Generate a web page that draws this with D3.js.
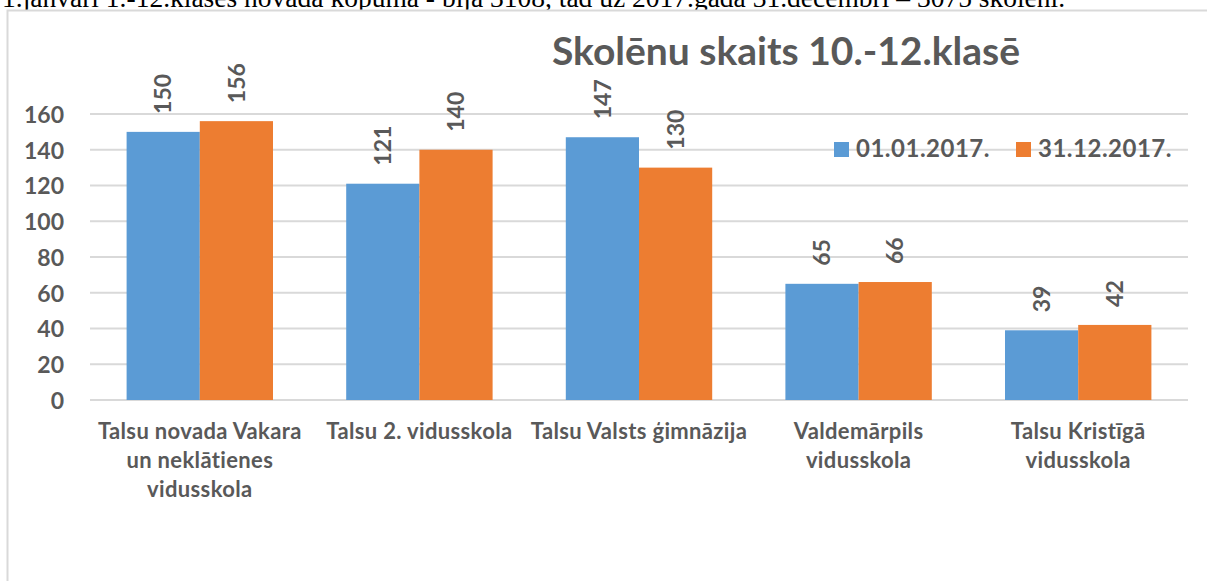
<!DOCTYPE html>
<html>
<head>
<meta charset="utf-8">
<script src="https://cdn.jsdelivr.net/npm/d3@7"></script>
<style>
  body { margin: 0; background: #fff; }
  svg { display: block; }
  .lbl { font-family: Lato, "Open Sans", sans-serif; font-weight: bold; fill: #595959; }
</style>
</head>
<body>
<div id="vis"></div>
<script>
// chart data
const CATEGORIES = [
  ['Talsu novada Vakara', 'un neklātienes', 'vidusskola'],
  ['Talsu 2. vidusskola'],
  ['Talsu Valsts ģimnāzija'],
  ['Valdemārpils', 'vidusskola'],
  ['Talsu Kristīgā', 'vidusskola']
];
const SERIES = ['01.01.2017.', '31.12.2017.'];
const START_VALUES = [150, 121, 147, 65, 39];
const END_VALUES = [156, 140, 130, 66, 42];
const Y_TICKS = [0, 20, 40, 60, 80, 100, 120, 140, 160];
const COLORS = ['#5B9BD5', '#ED7D31'];

const FRAME_WIDTH = 1207;
const FRAME_HEIGHT = 581;
const MARGINS = {left: 90, right: 19, top: 114, bottom: 181};

const VIS_WIDTH = FRAME_WIDTH - MARGINS.left - MARGINS.right;
const VIS_HEIGHT = FRAME_HEIGHT - MARGINS.top - MARGINS.bottom;

const svg = d3.select('#vis')
  .append('svg')
    .attr('width', FRAME_WIDTH)
    .attr('height', FRAME_HEIGHT);

// line of the document text above the chart (cut off at the top, as in the source)
svg.append('text')
  .attr('x', 2)
  .attr('y', 7)
  .attr('font-family', '"Liberation Serif", "Times New Roman", serif')
  .attr('font-size', 27.5)
  .attr('fill', '#000')
  .text('1.janvārī 1.-12.klasēs novada kopumā - bija 3108, tad uz 2017.gada 31.decembri – 3075 skolēni.');

// chart border
svg.append('rect')
  .attr('x', 7.5)
  .attr('y', 10.5)
  .attr('width', 1220)
  .attr('height', 600)
  .attr('fill', '#fff')
  .attr('stroke', '#d9d9d9')
  .attr('stroke-width', 2);

const X_SCALE = d3.scaleBand()
  .domain(d3.range(CATEGORIES.length))
  .range([0, VIS_WIDTH])
  .paddingInner(1 / 3)
  .paddingOuter(1 / 6);

const X_SUB = d3.scaleBand()
  .domain(d3.range(SERIES.length))
  .range([0, X_SCALE.bandwidth()]);

const Y_SCALE = d3.scaleLinear()
  .domain([0, 160])
  .range([VIS_HEIGHT, 0]);

const g = svg.append('g')
  .attr('transform', 'translate(' + MARGINS.left + ',' + MARGINS.top + ')');

// gridlines
g.append('g')
  .selectAll('line')
  .data(Y_TICKS)
  .enter()
  .append('line')
    .attr('x1', 0)
    .attr('x2', VIS_WIDTH)
    .attr('y1', (d) => Y_SCALE(d))
    .attr('y2', (d) => Y_SCALE(d))
    .attr('stroke', '#d9d9d9')
    .attr('stroke-width', 2);

// y axis labels
const yAxis = g.append('g')
  .attr('transform', 'translate(-26,0)')
  .call(d3.axisLeft(Y_SCALE).tickValues(Y_TICKS).tickSize(0).tickPadding(0));
yAxis.select('.domain').remove();
yAxis.selectAll('text')
  .attr('class', 'lbl')
  .attr('font-size', 23)
  .attr('dy', '0.36em');

const rows = CATEGORIES.map((c, i) => ({i: i, vals: [START_VALUES[i], END_VALUES[i]]}));

const groups = g.selectAll('.grp')
  .data(rows)
  .enter()
  .append('g')
    .attr('class', 'grp')
    .attr('transform', (d) => 'translate(' + X_SCALE(d.i) + ',0)');

// bars
groups.selectAll('rect')
  .data((d) => d.vals.map((v, s) => ({s: s, v: v})))
  .enter()
  .append('rect')
    .attr('x', (d) => X_SUB(d.s))
    .attr('width', X_SUB.bandwidth())
    .attr('y', (d) => Y_SCALE(d.v))
    .attr('height', (d) => VIS_HEIGHT - Y_SCALE(d.v))
    .attr('fill', (d) => COLORS[d.s]);

// rotated value labels
groups.selectAll('.val')
  .data((d) => d.vals.map((v, s) => ({s: s, v: v})))
  .enter()
  .append('text')
    .attr('class', 'lbl val')
    .attr('font-size', 23)
    .attr('text-anchor', 'start')
    .attr('dy', '0.36em')
    .attr('transform', (d) => 'translate(' + (X_SUB(d.s) + X_SUB.bandwidth() / 2) + ',' + (Y_SCALE(d.v) - 18) + ') rotate(-90)')
    .text((d) => d.v);

// category labels
const cat = g.selectAll('.cat')
  .data(CATEGORIES)
  .enter()
  .append('text')
    .attr('class', 'lbl cat')
    .attr('font-size', 22)
    .attr('letter-spacing', 0.35)
    .attr('text-anchor', 'middle')
    .attr('x', (d, i) => X_SCALE(i) + X_SCALE.bandwidth() / 2)
    .attr('y', VIS_HEIGHT + 39);
cat.selectAll('tspan')
  .data((d) => d)
  .enter()
  .append('tspan')
    .attr('x', function() { return d3.select(this.parentNode).attr('x'); })
    .attr('dy', (d, i) => i === 0 ? 0 : 29)
    .text((d) => d);

// title
svg.append('text')
  .attr('class', 'lbl')
  .attr('x', 786)
  .attr('y', 65)
  .attr('text-anchor', 'middle')
  .attr('font-size', 39)
  .text('Skolēnu skaits 10.-12.klasē');

// legend
const LEGEND_X = [834, 1016];
const legend = svg.selectAll('.leg')
  .data(SERIES)
  .enter()
  .append('g')
    .attr('class', 'leg')
    .attr('transform', (d, i) => 'translate(' + LEGEND_X[i] + ',142)');
legend.append('rect')
  .attr('width', 15)
  .attr('height', 15)
  .attr('fill', (d, i) => COLORS[i]);
legend.append('text')
  .attr('class', 'lbl')
  .attr('x', 22)
  .attr('y', 15)
  .attr('font-size', 24)
  .attr('letter-spacing', 0.5)
  .text((d) => d);
</script>
</body>
</html>
